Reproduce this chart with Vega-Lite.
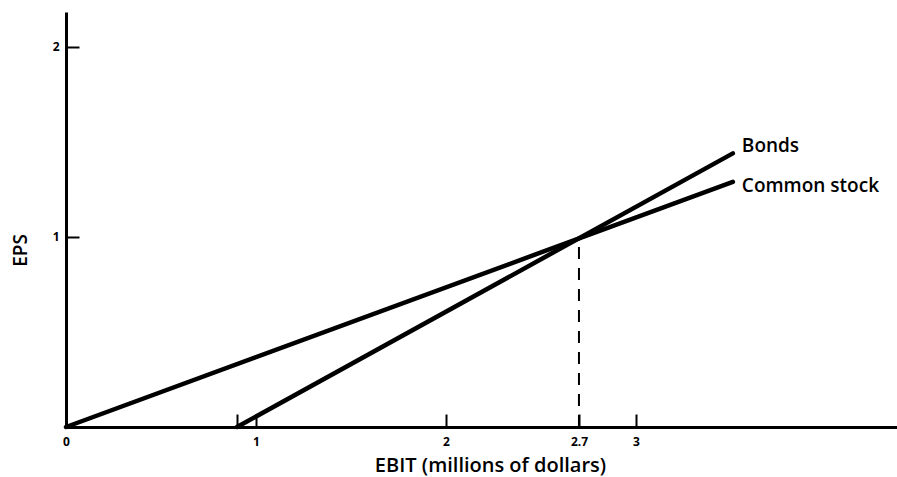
{
  "$schema": "https://vega.github.io/schema/vega-lite/v6.json",
  "width": 831,
  "height": 415,
  "autosize": {"type": "none"},
  "padding": {"left": 66, "top": 12, "right": 0, "bottom": 50},
  "background": "white",
  "config": {"view": {"stroke": null}, "font": "Open Sans"},
  "layer": [
    {
      "data": {"values": [
        {"series": "Common stock", "ebit": 0, "eps": 0},
        {"series": "Common stock", "ebit": 3.51, "eps": 1.29},
        {"series": "Bonds", "ebit": 0.9, "eps": 0},
        {"series": "Bonds", "ebit": 3.51, "eps": 1.44}
      ]},
      "mark": {"type": "line", "color": "black", "strokeWidth": 4.5, "strokeCap": "round"},
      "encoding": {
        "x": {"field": "ebit", "type": "quantitative",
          "scale": {"domain": [0, 4.374], "nice": false, "zero": false},
          "axis": {
            "title": "EBIT (millions of dollars)",
            "values": [0, 0.9, 1, 2, 2.7, 3],
            "labelExpr": "datum.value == 0.9 ? '' : datum.label",
            "format": "~g",
            "grid": false,
            "domainColor": "black", "domainWidth": 3,
            "tickColor": "black", "tickWidth": 2, "tickSize": -13,
            "labelFont": "Open Sans", "labelFontWeight": "bold", "labelFontSize": 12, "labelColor": "black",
            "labelPadding": 22, "labelFlush": false,
            "titleFont": "Open Sans", "titleFontWeight": 600, "titleFontSize": 20, "titleColor": "black",
            "titleX": 424, "titleY": 38, "titleBaseline": "middle", "titleAlign": "center"
          }
        },
        "y": {"field": "eps", "type": "quantitative",
          "scale": {"domain": [0, 2.184], "nice": false, "zero": false},
          "axis": {
            "title": "EPS",
            "values": [1, 2],
            "format": "~g",
            "grid": false,
            "domainColor": "black", "domainWidth": 3,
            "tickColor": "black", "tickWidth": 2, "tickSize": -13,
            "labelFont": "Open Sans", "labelFontWeight": "bold", "labelFontSize": 12, "labelColor": "black",
            "labelPadding": 20,
            "titleFont": "Open Sans", "titleFontWeight": 600, "titleFontSize": 19, "titleColor": "black",
            "titleX": -46, "titleY": 238, "titleBaseline": "middle", "titleAlign": "center", "titleAngle": -90
          }
        },
        "detail": {"field": "series", "type": "nominal"}
      }
    },
    {
      "data": {"values": [{"ebit": 2.7, "base": 0, "eps": 1}]},
      "mark": {"type": "rule", "color": "black", "strokeWidth": 2, "strokeDash": [12, 9]},
      "encoding": {
        "x": {"field": "ebit", "type": "quantitative"},
        "y": {"field": "base", "type": "quantitative"},
        "y2": {"field": "eps"}
      }
    },
    {
      "data": {"values": [
        {"label": "Bonds", "ebit": 3.51, "eps": 1.44}
      ]},
      "mark": {"type": "text", "align": "left", "baseline": "middle", "dx": 9, "dy": -7,
        "font": "Open Sans", "fontWeight": 600, "fontSize": 19, "color": "black"},
      "encoding": {
        "x": {"field": "ebit", "type": "quantitative"},
        "y": {"field": "eps", "type": "quantitative"},
        "text": {"field": "label", "type": "nominal"}
      }
    },
    {
      "data": {"values": [
        {"label": "Common stock", "ebit": 3.51, "eps": 1.29}
      ]},
      "mark": {"type": "text", "align": "left", "baseline": "middle", "dx": 9, "dy": 4,
        "font": "Open Sans", "fontWeight": 600, "fontSize": 19, "color": "black"},
      "encoding": {
        "x": {"field": "ebit", "type": "quantitative"},
        "y": {"field": "eps", "type": "quantitative"},
        "text": {"field": "label", "type": "nominal"}
      }
    }
  ]
}
